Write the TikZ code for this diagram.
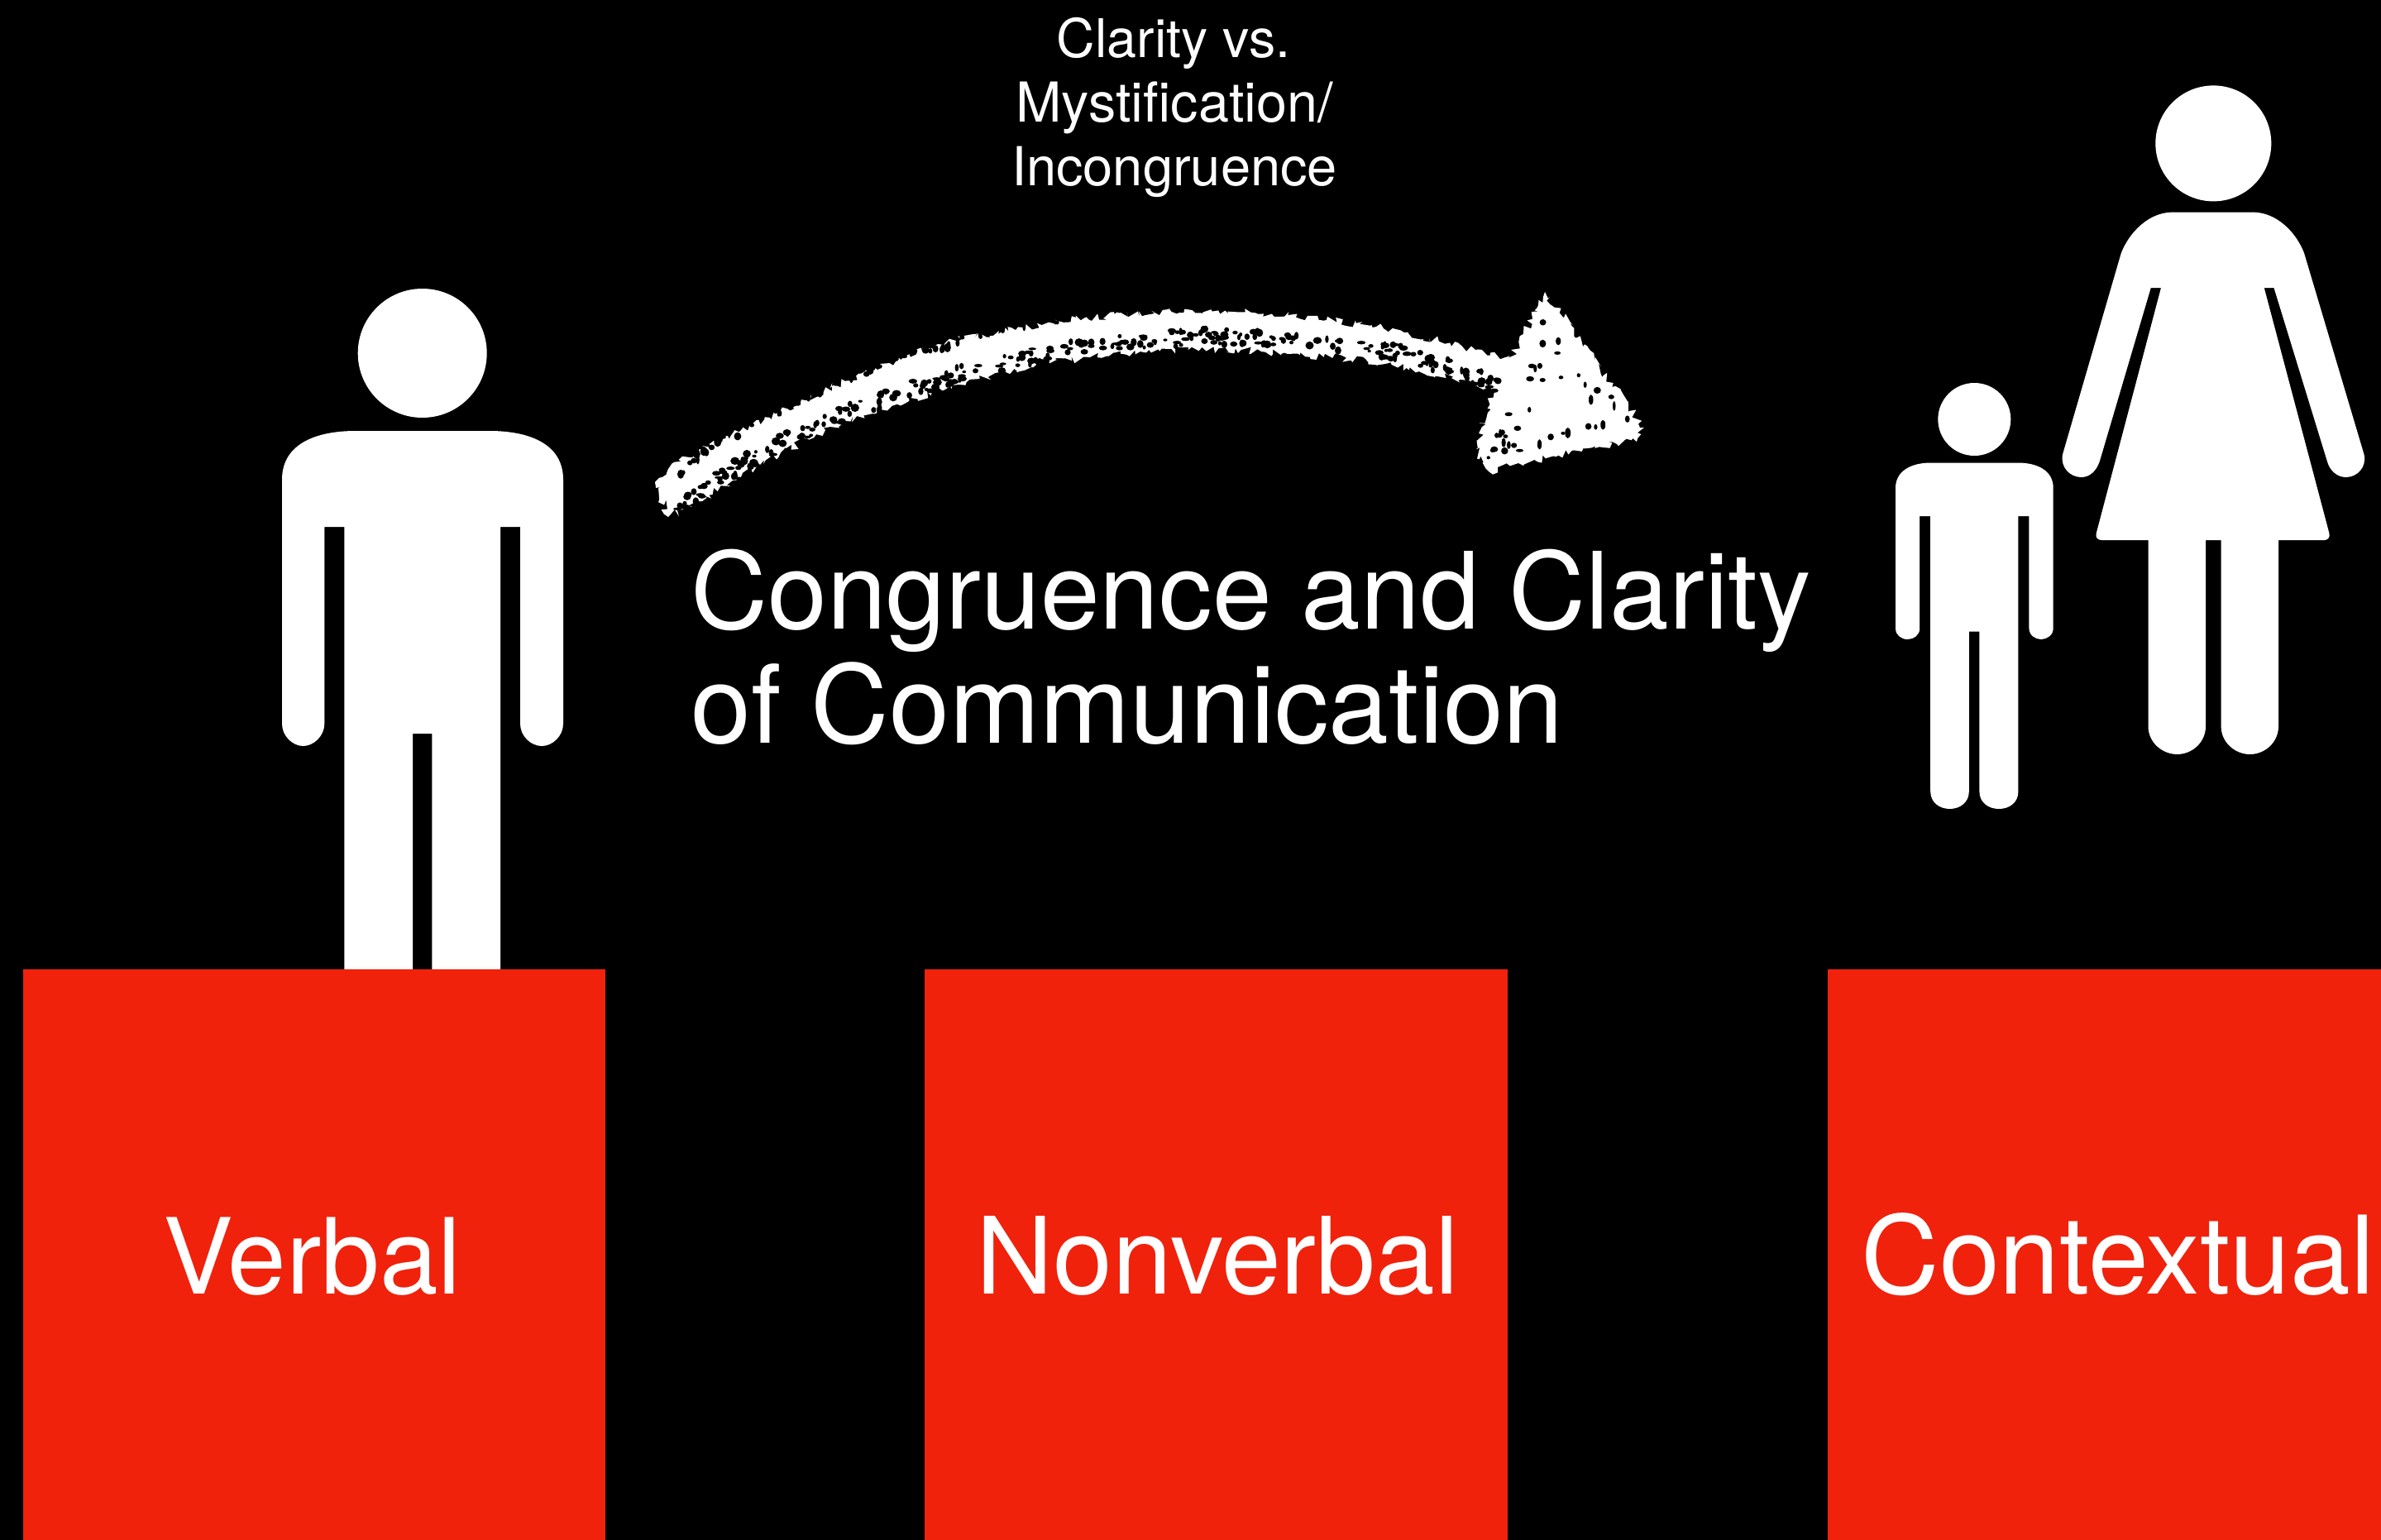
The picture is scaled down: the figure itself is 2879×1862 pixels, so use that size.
\documentclass[tikz,border=0pt]{standalone}
\usepackage{fontspec}
\setmainfont{TeX Gyre Heros}
\usetikzlibrary{decorations.pathmorphing}
\definecolor{boxred}{HTML}{F0220C}
\tikzset{
  redbox/.style={fill=boxred,draw=none},
  figure/.style={fill=white,draw=none},
  chalk/.style={fill=white,draw=none,decorate,decoration={random steps,segment length=4pt,amplitude=5pt}},
  speck/.style={fill=black,draw=none},
  biglabel/.style={text=white,anchor=base,inner sep=0pt,font=\fontsize{127}{138}\selectfont},
  headline/.style={text=white,anchor=base west,inner sep=0pt,font=\fontsize{129}{138}\selectfont},
  smallline/.style={text=white,anchor=base,inner sep=0pt,font=\fontsize{65}{78}\selectfont}
}
\begin{document}
\begin{tikzpicture}[x=1pt,y=-1pt]
\useasboundingbox (0,0) rectangle (2879,1862);
\fill[black] (0,0) rectangle (2879,1862);

% man
\fill[figure] (510.7,427) circle [radius=78pt];
\fill[figure] (341,580) .. controls (341,535) and (385,521) .. (430,521) -- (592,521)
  .. controls (637,521) and (681,535) .. (681,580) -- (681,875)
  .. controls (681,890) and (668,902) .. (655,902) .. controls (642,902) and (629,890) .. (629,875)
  -- (629,637) -- (605,637) -- (605,1172) -- (522.3,1172) -- (522.3,887) -- (499,887) -- (499,1172) -- (416.3,1172)
  -- (416.3,637) -- (392.3,637) -- (392.3,875)
  .. controls (392.3,890) and (379,902) .. (366.5,902) .. controls (354,902) and (341,890) .. (341,875) -- cycle;

% woman
\fill[figure] (2676.3,173.4) circle [radius=70pt];
\fill[figure] (2627,256.6) -- (2724,256.6) .. controls (2752,256.6) and (2776,280) .. (2786,306)
  -- (2858.5,549.5) .. controls (2862,565) and (2850,577) .. (2836.4,577)
  .. controls (2826,577) and (2817,569) .. (2814,558)
  -- (2749.5,348) -- (2737.7,348) -- (2816.3,644.5) .. controls (2818,650) and (2814,653) .. (2810.7,653)
  -- (2755,653) -- (2755,878) .. controls (2755,898) and (2738,912) .. (2720.5,912)
  .. controls (2703,912) and (2685.6,898) .. (2685.6,878) -- (2685.6,653) -- (2667,653) -- (2667,878)
  .. controls (2667,898) and (2650,912) .. (2632.5,912) .. controls (2615,912) and (2597.5,898) .. (2597.5,878)
  -- (2597.5,653) -- (2541,653) .. controls (2537,653) and (2533,650) .. (2534.8,644.5)
  -- (2613,348) -- (2600.7,348) -- (2538.7,558) .. controls (2535,569) and (2527,577) .. (2516.6,577)
  .. controls (2503,577) and (2491,565) .. (2494,549.5) -- (2564.8,306)
  .. controls (2575,280) and (2599,256.6) .. (2627,256.6) -- cycle;

% boy
\fill[figure] (2387.3,507) circle [radius=44pt];
\fill[figure] (2292,590) .. controls (2292,570) and (2310,559.5) .. (2335,559.5) -- (2439.6,559.5)
  .. controls (2465,559.5) and (2482.7,570) .. (2482.7,590) -- (2482.7,759.6)
  .. controls (2482.7,768) and (2475,773) .. (2468,773) .. controls (2461,773) and (2453.4,768) .. (2453.4,759.6)
  -- (2453.4,624) -- (2440.4,624) -- (2440.4,957) .. controls (2440.4,970) and (2430,978) .. (2417,978)
  .. controls (2404,978) and (2393.4,970) .. (2393.4,957) -- (2393.4,763.7) -- (2380.8,763.7) -- (2380.8,957)
  .. controls (2380.8,970) and (2370,978) .. (2357.5,978) .. controls (2345,978) and (2334.2,970) .. (2334.2,957)
  -- (2334.2,624) -- (2321.2,624) -- (2321.2,759.6) .. controls (2321.2,768) and (2314,773) .. (2306.6,773)
  .. controls (2299,773) and (2292,768) .. (2292,759.6) -- cycle;

% chalk arrow
\pgfmathsetseed{11}
\fill[chalk] (792,583) .. controls (830,545) and (880,530) .. (943,498)
  .. controls (1040,450) and (1130,410) .. (1238,396) .. controls (1330,378) and (1440,372) .. (1557,381)
  .. controls (1640,388) and (1740,408) .. (1826,436) -- (1868,353) -- (1988,517) -- (1980,530)
  -- (1800,570) -- (1784.5,543) -- (1804,472) .. controls (1720,445) and (1640,432) .. (1557,428)
  .. controls (1480,420) and (1390,420) .. (1318,432) .. controls (1260,438) and (1210,450) .. (1159,465)
  .. controls (1110,480) and (1060,495) .. (1023,509) .. controls (980,530) and (950,545) .. (919,562)
  .. controls (880,585) and (840,610) .. (808,625) -- cycle;
\foreach \i in {1,...,300}{
  \pgfmathsetmacro{\t}{rnd}
  \pgfmathsetmacro{\cx}{(1-\t)^3*815+3*(1-\t)^2*\t*1050+3*(1-\t)*\t^2*1500+\t^3*1815}
  \pgfmathsetmacro{\cy}{(1-\t)^3*600+3*(1-\t)^2*\t*420+3*(1-\t)*\t^2*320+\t^3*450}
  \pgfmathsetmacro{\off}{6+20*rnd}
  \pgfmathsetmacro{\rx}{2+3.5*rnd}
  \pgfmathsetmacro{\ry}{1.5+3.5*rnd}
  \fill[speck] (\cx,\cy+\off) ellipse [x radius=\rx pt,y radius=\ry pt];
}
\foreach \i in {1,...,130}{
  \pgfmathsetmacro{\t}{rnd}
  \pgfmathsetmacro{\cx}{(1-\t)^3*815+3*(1-\t)^2*\t*1050+3*(1-\t)*\t^2*1500+\t^3*1815}
  \pgfmathsetmacro{\cy}{(1-\t)^3*600+3*(1-\t)^2*\t*420+3*(1-\t)*\t^2*320+\t^3*450}
  \pgfmathsetmacro{\off}{-20-12*rnd}
  \pgfmathsetmacro{\rx}{2+3*rnd}
  \pgfmathsetmacro{\ry}{2+4*rnd}
  \fill[speck] (\cx,\cy+\off) ellipse [x radius=\rx pt,y radius=\ry pt];
}
\foreach \i in {1,...,40}{
  \pgfmathsetmacro{\u}{rnd}
  \pgfmathsetmacro{\v}{rnd*(1-\u)}
  \pgfmathsetmacro{\cx}{1868+\u*(-70)+\v*105}
  \pgfmathsetmacro{\cy}{370+\u*185+\v*140}
  \pgfmathsetmacro{\rx}{1.5+3.5*rnd}
  \pgfmathsetmacro{\ry}{1.5+5*rnd}
  \fill[speck] (\cx,\cy) ellipse [x radius=\rx pt,y radius=\ry pt];
}

% boxes
\fill[redbox] (28,1172) coordinate (verbalbox) rectangle (732,1862);
\fill[redbox] (1118,1172) coordinate (nonverbalbox) rectangle (1823,1862);
\fill[redbox] (2210,1172) coordinate (contextualbox) rectangle (2879,1862);

% text
\node[biglabel] (verbal) at (378,1564) {Verbal};
\node[biglabel,font=\fontsize{129}{138}\selectfont] (nonverbal) at (1472,1564) {Nonverbal};
\node[biglabel,font=\fontsize{131}{138}\selectfont] (contextual) at (2561,1564) {Contextual};
\node[headline] (head1) at (835,760) {Congruence and Clarity};
\node[headline,font=\fontsize{131}{138}\selectfont] (head2) at (835,898) {of Communication};
\node[smallline,font=\fontsize{64.5}{78}\selectfont] (s1) at (1419,70) {Clarity vs.};
\node[smallline,font=\fontsize{66.5}{78}\selectfont] (s2) at (1420,148) {Mystification/};
\node[smallline,font=\fontsize{65}{78}\selectfont] (s3) at (1420,225) {Incongruence};
\end{tikzpicture}
\end{document}
